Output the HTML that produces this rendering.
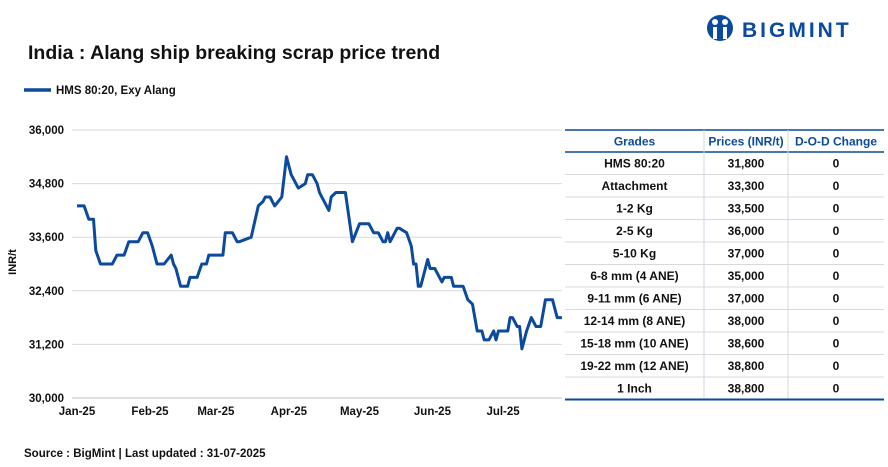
<!DOCTYPE html>
<html><head><meta charset="utf-8"><style>
body{margin:0;background:#fff;font-family:"Liberation Sans",Arial,sans-serif;}
#wrap{position:relative;width:888px;height:467px;overflow:hidden;}
svg text{font-family:"Liberation Sans",Arial,sans-serif;}
</style></head><body>
<div id="wrap">
<svg id="svg" width="888" height="467">
  <text x="28" y="59" font-size="19.5" font-weight="bold" fill="#111">India : Alang ship breaking scrap price trend</text>
  <line x1="24" y1="90" x2="51" y2="90" stroke="#0b4a9c" stroke-width="3.5"/>
  <text x="56" y="94" font-size="11.5" font-weight="bold" fill="#111">HMS 80:20, Exy Alang</text>
  <g>
    <circle cx="720" cy="28" r="13" fill="#0b4a9c"/>
    <circle cx="715" cy="22" r="3" fill="#fff"/><circle cx="725" cy="22" r="3" fill="#fff"/>
    <rect x="713" y="27" width="4" height="12" fill="#fff"/><rect x="723" y="27" width="4" height="12" fill="#fff"/>
    <text x="742" y="37" font-size="21" font-weight="bold" fill="#0b4a9c" letter-spacing="3">BIGMINT</text>
  </g>
  <text transform="translate(16,262) rotate(-90)" text-anchor="middle" font-size="11" font-weight="bold" fill="#111">INR/t</text>
  <g id="grid"></g><g id="yticks"></g><g id="xticks"></g><g id="series"></g><g id="table"></g>
  <text x="24" y="457" font-size="11.5" font-weight="bold" fill="#111">Source : BigMint | Last updated : 31-07-2025</text>
</svg>
</div>
<script>
const yTicks=[30000,31200,32400,33600,34800,36000];
const yTickLabels=["30,000","31,200","32,400","33,600","34,800","36,000"];
const monthDays=[0,31,59,90,120,151,181];
const monthLabels=["Jan-25","Feb-25","Mar-25","Apr-25","May-25","Jun-25","Jul-25"];
const days=[0,3,5,7,8,10,15,17,20,22,26,28,30,32,34,37,40,41,42,44,47,48,51,53,55,56,62,63,66,68,69,74,77,79,80,82,84,87,89,91,94,97,98,100,102,103,104,107,108,110,114,117,120,124,126,128,130,131,132,133,136,137,140,142,143,144,145,146,149,150,152,155,156,159,160,164,166,168,170,172,173,175,177,178,179,183,184,185,187,188,189,191,193,195,197,199,202,204,206];
const prices=[34300,34300,34000,34000,33300,33000,33000,33200,33200,33500,33500,33700,33700,33400,33000,33000,33200,33000,32900,32500,32500,32700,32700,33000,33000,33200,33200,33700,33700,33500,33500,33600,34300,34400,34500,34500,34300,34500,35400,35000,34700,34800,35000,35000,34800,34600,34500,34200,34500,34600,34600,33500,33900,33900,33700,33700,33500,33500,33700,33500,33800,33800,33700,33400,33000,33000,32500,32500,33100,32900,32900,32600,32700,32700,32500,32500,32200,32100,31500,31500,31300,31300,31500,31300,31500,31500,31800,31800,31600,31600,31100,31500,31800,31600,31600,32200,32200,31800,31800];
const grades=["HMS 80:20","Attachment","1-2 Kg","2-5 Kg","5-10 Kg","6-8 mm (4 ANE)","9-11 mm (6 ANE)","12-14 mm (8 ANE)","15-18 mm (10 ANE)","19-22 mm (12 ANE)","1 Inch"];
const gradePrices=["31,800","33,300","33,500","36,000","37,000","35,000","37,000","38,000","38,600","38,800","38,800"];
const changes=["0","0","0","0","0","0","0","0","0","0","0"];
const NS="http://www.w3.org/2000/svg";
const X0=77,PX_PER_DAY=2.354,YTOP=130,YBOT=398,VMIN=30000,VMAX=36000;
const xS=d=>X0+d*PX_PER_DAY;
const yS=v=>YBOT-(v-VMIN)/(VMAX-VMIN)*(YBOT-YTOP);
function mk(tag,attrs,parent,text){const e=document.createElementNS(NS,tag);for(const k in attrs)e.setAttribute(k,attrs[k]);if(text!==undefined)e.textContent=text;parent.appendChild(e);return e;}
const grid=document.getElementById('grid'),yt=document.getElementById('yticks'),xt=document.getElementById('xticks'),ser=document.getElementById('series'),tb=document.getElementById('table');
yTicks.forEach((v,i)=>{
  if(v>VMIN){const g=mk('line',{x1:72,x2:562,y1:yS(v),y2:yS(v),stroke:'#d9d9d9','stroke-width':1},grid);
  
  }
  const t=mk('text',{x:64,y:yS(v)+4,'text-anchor':'end','font-size':11.5,'font-weight':'bold',fill:'#111'},yt,yTickLabels[i]);
  
  
});
const ax=mk('line',{x1:72,x2:562,y1:YBOT,y2:YBOT,stroke:'#bfbfbf','stroke-width':1},grid);


monthDays.forEach((d,i)=>{
  const t=mk('text',{x:xS(d),y:415,'text-anchor':'middle','font-size':11.5,'font-weight':'bold',fill:'#111'},xt,monthLabels[i]);
  
  
});
const pts=days.map((d,i)=>xS(d).toFixed(1)+','+yS(prices[i]).toFixed(1)).join(' ');
const pl=mk('polyline',{points:pts,fill:'none',stroke:'#0b4a9c','stroke-width':3,'stroke-linejoin':'round'},ser);


// table
const TX=[565,704,788,884],TY0=130,HH=22,RH=22.5;
mk('line',{x1:TX[0],x2:TX[3],y1:TY0,y2:TY0,stroke:'#0b4a9c','stroke-width':1.5},tb);
mk('line',{x1:TX[0],x2:TX[3],y1:TY0+HH,y2:TY0+HH,stroke:'#0b4a9c','stroke-width':1.5},tb);
const heads=["Grades","Prices (INR/t)","D-O-D Change"];
heads.forEach((h,c)=>{const t=mk('text',{x:(TX[c]+TX[c+1])/2,y:TY0+15.5,'text-anchor':'middle','font-size':12,'font-weight':'bold',fill:'#0b4a9c'},tb,h);
  
  });
const yEnd=TY0+HH+RH*grades.length;
[1,2].forEach(c=>mk('line',{x1:TX[c],x2:TX[c],y1:TY0,y2:yEnd,stroke:'#d0d8e4','stroke-width':1},tb));
grades.forEach((g,r)=>{
  const y=TY0+HH+RH*r;
  if(r>0)mk('line',{x1:TX[0],x2:TX[3],y1:y,y2:y,stroke:'#d9d9d9','stroke-width':1},tb);
  [g,gradePrices[r],changes[r]].forEach((v,c)=>{
    const t=mk('text',{x:(TX[c]+TX[c+1])/2,y:y+15.5,'text-anchor':'middle','font-size':12,'font-weight':'bold',fill:'#111'},tb,v);
    
    
  });
});
mk('line',{x1:TX[0],x2:TX[3],y1:yEnd,y2:yEnd,stroke:'#0b4a9c','stroke-width':2},tb);
</script>
</body></html>
